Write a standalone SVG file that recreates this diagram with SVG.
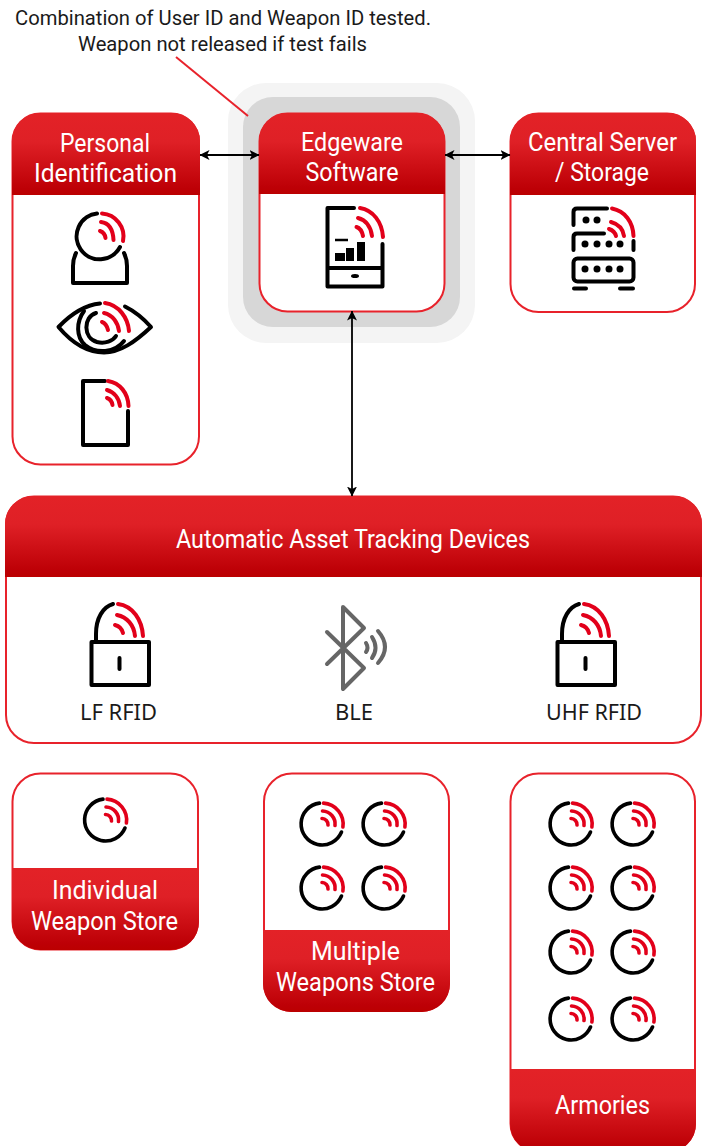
<svg xmlns="http://www.w3.org/2000/svg" xmlns:xlink="http://www.w3.org/1999/xlink" width="707" height="1146" viewBox="0 0 707 1146">
<style>
text{font-family:"Noto Sans","Open Sans","Liberation Sans",sans-serif}
.h{fill:#fff;font-family:Roboto,"Noto Sans",sans-serif;font-size:25px;text-anchor:middle}
.l{fill:#1a1a1a;font-size:22px;text-anchor:middle}
.n{fill:#1a1a1a;font-family:Roboto,"Noto Sans",sans-serif;font-size:21px;text-anchor:middle}
.box{fill:#fff;stroke:#e8222b;stroke-width:2}
.k{fill:none;stroke:#000;stroke-width:4;stroke-linecap:round;stroke-linejoin:round}
.r{fill:none;stroke:#e2001a;stroke-width:4;stroke-linecap:round}
.c{fill:none;stroke:#000;stroke-width:1.8}
.b{fill:none;stroke:#666;stroke-width:4;stroke-linecap:round;stroke-linejoin:round}
</style>
<defs>
<linearGradient id="g" x1="0" y1="0" x2="0" y2="1"><stop offset="0" stop-color="#e32227"/><stop offset=".35" stop-color="#df2026"/><stop offset=".92" stop-color="#bd0006"/><stop offset="1" stop-color="#bb0000"/></linearGradient>
<marker id="a" viewBox="0 0 10 10" refX="9.500" refY="5" markerWidth="10" markerHeight="10" markerUnits="userSpaceOnUse" orient="auto-start-reverse"><path d="M0 0L10 5L0 10L2.500 5Z" fill="#000"/></marker>
<g id="tag">
<path class="k" style="stroke-width:3.600" d="M-2.500 -20.900A21 21 0 1 0 19.500 8"/>
<path class="r" style="stroke-width:3.600" d="M1.500 -20.900A21 21 0 0 1 20.900 3"/>
<path class="r" style="stroke-width:3.600" d="M0.500 -13A13 13 0 0 1 13 1.500"/>
<path class="r" style="stroke-width:3.600" d="M0 -5.500A6 6 0 0 1 6 1"/>
</g>
<g id="lock">
<path class="k" d="M96 641V634C96 618 103 607 113 604"/>
<path class="r" d="M118 604C133 606 142 620 143 636"/>
<path class="r" d="M117 615C127 617 134 625 135 636"/>
<path class="r" d="M115 625C119 626 122 629 123 633"/>
<rect class="k" x="91.500" y="642" width="57.500" height="43"/>
<path class="k" d="M119.500 658V669"/>
</g>
</defs>
<g id="edgeware-software">
<rect x="228" y="83" width="247" height="260" rx="38" fill="#f4f4f4"/>
<rect x="243" y="97" width="217" height="230" rx="30" fill="#d7d7d7"/>
<rect class="box" x="259.500" y="113.500" width="185" height="198" rx="28"/>
<path d="M259 194V141A28 28 0 0 1 287 113H417A28 28 0 0 1 445 141V194Z" fill="url(#g)"/>
<text class="h" x="352" y="151" textLength="102" lengthAdjust="spacingAndGlyphs">Edgeware</text>
<text class="h" x="352" y="181" textLength="93" lengthAdjust="spacingAndGlyphs">Software</text>
<path class="k" d="M354 208H327.500V286.500H382.500V244M327.500 268H382.500"/>
<path class="r" d="M360 208C373 210 382 222 383 237"/>
<path class="r" d="M358 218C366 220 371 227 372 236"/>
<path class="r" d="M356.500 227C360 228 362 231 363 236"/>
<path d="M335 253H345V261H335ZM346 248H354V261H346ZM357 242H365V261H357Z" fill="#000"/>
<path d="M335 240H348" stroke="#000" stroke-width="2.500"/>
<ellipse cx="355" cy="276" rx="4" ry="2" fill="#000"/>
</g>
<g id="personal-identification">
<rect class="box" x="12.500" y="113.500" width="186.500" height="351" rx="28"/>
<path d="M12 195V141A28 28 0 0 1 40 113H172A28 28 0 0 1 200 141V195Z" fill="url(#g)"/>
<text class="h" x="105" y="152" textLength="90" lengthAdjust="spacingAndGlyphs">Personal</text>
<text class="h" x="105.500" y="182" textLength="143" lengthAdjust="spacingAndGlyphs">Identification</text>
<path class="k" d="M97 213.500A23 23 0 1 0 120 247"/>
<path class="r" d="M102 213.500A23 23 0 0 1 123 241"/>
<path class="r" d="M101 222C109 223 113 230 113.500 240"/>
<path class="r" d="M100 231C103 232 105 234 105.500 238"/>
<path class="k" d="M76 253C74 257 73 261 73 266V283H127V266C127 261 126 257 124 253"/>
<path class="k" d="M100 303.500C85 305 70 315 58.500 327C72 343 88 352.500 104 352.500C120 352.500 135 342 151 327C143 318 134 311 125 306.500"/>
<path class="k" d="M84 311C76 322 76 337 85 345C96 354 115 353 124 341"/>
<path class="k" d="M96 313C83 317 83 338 97 342C105 344 113 341 116 336"/>
<path class="r" d="M105 303C119 305 128 318 129 331"/>
<path class="r" d="M104 313C113 315 118 323 119 331"/>
<path class="r" d="M102 322C105 323 107 326 108 330"/>
<path class="k" d="M105 381H83V445H128V411"/>
<path class="r" d="M108 381C120 383 128 393 128.500 406"/>
<path class="r" d="M107 390C114 392 119 398 120 406"/>
<path class="r" d="M107 398C110 399 112 402 112.500 405"/>
</g>
<g id="central-server-storage">
<rect class="box" x="510.500" y="113.500" width="184.500" height="198.500" rx="28"/>
<path d="M510 195V141A28 28 0 0 1 538 113H668A28 28 0 0 1 696 141V195Z" fill="url(#g)"/>
<text class="h" x="602.500" y="151" textLength="149" lengthAdjust="spacingAndGlyphs">Central Server</text>
<text class="h" x="602" y="181" textLength="94" lengthAdjust="spacingAndGlyphs">/ Storage</text>
<path class="k" d="M607 208.500H577Q573.500 208.500 573.500 212V225M604 233.500H577Q573.500 233.500 573.500 237V250M633.500 241V250"/>
<rect class="k" x="573.500" y="258.500" width="60" height="23" rx="4"/>
<path d="M574 288.500H586M620 288.500H633" stroke="#000" stroke-width="4" stroke-linecap="round"/>
<path class="r" d="M612 208.500C625 211 633 222 633.500 236"/>
<path class="r" d="M611 222C618 224 623 229 624 236"/>
<path class="r" d="M609 229C612 230 615 232 616 236"/>
<g fill="#000"><circle cx="586" cy="220" r="3.500"/><circle cx="597" cy="220" r="3.500"/><circle cx="585" cy="244" r="3.500"/><circle cx="597" cy="244" r="3.500"/><circle cx="609" cy="244" r="3.500"/><circle cx="620" cy="244" r="3.500"/><circle cx="585" cy="269" r="3.500"/><circle cx="597" cy="269" r="3.500"/><circle cx="609" cy="269" r="3.500"/><circle cx="620" cy="269" r="3.500"/></g>
</g>
<g id="automatic-asset-tracking-devices">
<rect class="box" x="6" y="496.500" width="695" height="246.500" rx="28"/>
<path d="M5 577V524A28 28 0 0 1 33 496H674A28 28 0 0 1 702 524V577Z" fill="url(#g)"/>
<text class="h" x="353" y="548" textLength="354" lengthAdjust="spacingAndGlyphs">Automatic Asset Tracking Devices</text>
<use href="#lock"/>
<use href="#lock" x="466"/>
<path class="b" d="M327 632L364 668L343 689V607L364 628L327 664"/>
<path class="b" d="M366 643Q369 648 366 652M372 637Q379 648 372 658M378 631Q392 647 378 663"/>
<text class="l" x="118.500" y="720" textLength="77" lengthAdjust="spacingAndGlyphs">LF RFID</text>
<text class="l" x="354" y="720" textLength="38" lengthAdjust="spacingAndGlyphs">BLE</text>
<text class="l" x="594" y="720" textLength="96" lengthAdjust="spacingAndGlyphs">UHF RFID</text>
</g>
<g id="individual-weapon-store">
<rect class="box" x="12.500" y="773.500" width="185.500" height="176" rx="28"/>
<path d="M12 868V922A28 28 0 0 0 40 950H171A28 28 0 0 0 199 922V868Z" fill="url(#g)"/>
<text class="h" x="105" y="899" textLength="106" lengthAdjust="spacingAndGlyphs">Individual</text>
<text class="h" x="104.500" y="930" textLength="147" lengthAdjust="spacingAndGlyphs">Weapon Store</text>
<use href="#tag" x="105.500" y="820"/>
</g>
<g id="multiple-weapons-store">
<rect class="box" x="264" y="773.500" width="185" height="237.500" rx="28"/>
<path d="M263 930V984A28 28 0 0 0 291 1012H422A28 28 0 0 0 450 984V930Z" fill="url(#g)"/>
<text class="h" x="355.500" y="960" textLength="89" lengthAdjust="spacingAndGlyphs">Multiple</text>
<text class="h" x="355.500" y="991" textLength="159" lengthAdjust="spacingAndGlyphs">Weapons Store</text>
<use href="#tag" x="322" y="824"/><use href="#tag" x="384" y="824"/>
<use href="#tag" x="322" y="888"/><use href="#tag" x="384" y="888"/>
</g>
<g id="armories">
<rect class="box" x="510.500" y="773.500" width="184.500" height="378" rx="28"/>
<path d="M510 1069V1124A28 28 0 0 0 538 1152H668A28 28 0 0 0 696 1124V1069Z" fill="url(#g)"/>
<text class="h" x="602.500" y="1114" textLength="95" lengthAdjust="spacingAndGlyphs">Armories</text>
<use href="#tag" x="571" y="824"/><use href="#tag" x="633" y="824"/>
<use href="#tag" x="571" y="888"/><use href="#tag" x="633" y="888"/>
<use href="#tag" x="571" y="952"/><use href="#tag" x="633" y="952"/>
<use href="#tag" x="571" y="1019"/><use href="#tag" x="633" y="1019"/>
</g>
<g id="connectors">
<path d="M176 57L248 116" fill="none" stroke="#e8222b" stroke-width="2"/>
<path class="c" d="M200 155H259" marker-start="url(#a)" marker-end="url(#a)"/>
<path class="c" d="M445 155H510" marker-start="url(#a)" marker-end="url(#a)"/>
<path class="c" d="M352 311V496" marker-start="url(#a)" marker-end="url(#a)"/>
</g>
<g id="note">
<text class="n" x="223" y="25" textLength="416" lengthAdjust="spacingAndGlyphs">Combination of User ID and Weapon ID tested.</text>
<text class="n" x="222.500" y="51" textLength="289" lengthAdjust="spacingAndGlyphs">Weapon not released if test fails</text>
</g>
</svg>
